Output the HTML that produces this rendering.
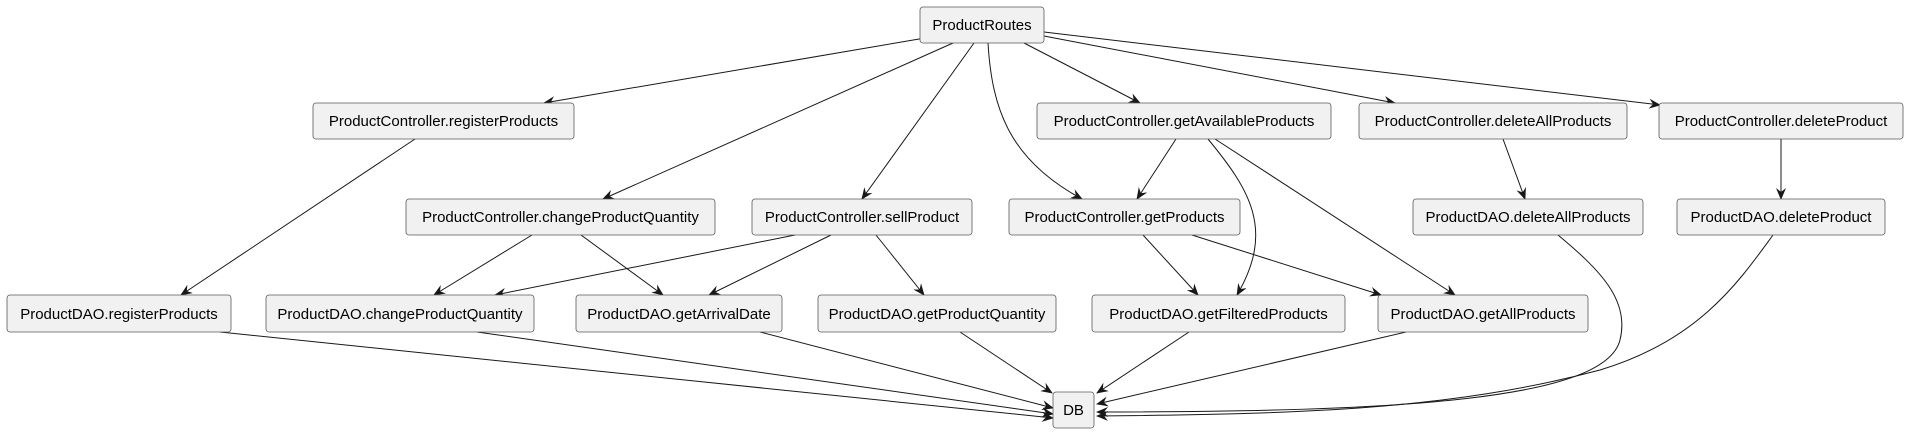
<!DOCTYPE html>
<html><head><meta charset="utf-8"><style>
html,body{margin:0;padding:0;background:#fff;}
svg{display:block;}
text{font-family:"Liberation Sans",sans-serif;font-size:15px;fill:#000;}
</style></head><body>
<svg width="1907" height="433" viewBox="0 0 1907 433" xmlns="http://www.w3.org/2000/svg">
<defs>
<marker id="a" viewBox="0 0 12 10" refX="11" refY="5" markerWidth="12" markerHeight="10" markerUnits="userSpaceOnUse" orient="auto">
<path d="M0,0 L12,5 L0,10 L4,5 Z" fill="#181818"/>
</marker>
</defs>
<g fill="none" stroke="#181818" stroke-width="1" marker-end="url(#a)">
<path d="M925,38 L544,103"/>
<path d="M953,43 L603,199"/>
<path d="M974,43 L862,199"/>
<path d="M988,43 C992,110 1010,160 1082,199"/>
<path d="M1024,43 L1140,103"/>
<path d="M1044,36 L1395,103"/>
<path d="M1044,32 L1660,105"/>
<path d="M415,139 L181,295"/>
<path d="M1176,139 L1137,199"/>
<path d="M1208,139 C1250,190 1275,230 1237,295"/>
<path d="M1215,139 L1455,295"/>
<path d="M1503,139 L1525,199"/>
<path d="M1781,139 L1781,199"/>
<path d="M532,235 L434,295"/>
<path d="M581,235 L663,295"/>
<path d="M795,235 L495,295"/>
<path d="M831,235 L709,295"/>
<path d="M876,235 L924,295"/>
<path d="M1143,235 L1198,295"/>
<path d="M1192,235 L1381,295"/>
<path d="M220,332 L1053,418"/>
<path d="M477,332 L1053,414"/>
<path d="M760,332 L1053,408"/>
<path d="M960,332 L1052,393"/>
<path d="M1189,332 L1097,393"/>
<path d="M1406,332 L1097,404"/>
<path d="M1558,235 C1600,270 1630,300 1620,340 C1605,400 1400,412 1097,412"/>
<path d="M1773,235 C1740,280 1700,340 1600,370 C1450,410 1300,414 1097,416"/>
</g>
<g fill="#f1f1f1" stroke="#5a5a5a" stroke-width="0.8">
<rect x="920" y="7" width="124" height="36" rx="3"/>
<rect x="313" y="103" width="261" height="36" rx="3"/>
<rect x="1037" y="103" width="294" height="36" rx="3"/>
<rect x="1359" y="103" width="268" height="36" rx="3"/>
<rect x="1659" y="103" width="244" height="36" rx="3"/>
<rect x="406" y="199" width="309" height="36" rx="3"/>
<rect x="752" y="199" width="220" height="36" rx="3"/>
<rect x="1009" y="199" width="231" height="36" rx="3"/>
<rect x="1413" y="199" width="230" height="36" rx="3"/>
<rect x="1677" y="199" width="208" height="36" rx="3"/>
<rect x="7" y="295" width="224" height="37" rx="3"/>
<rect x="266" y="295" width="268" height="37" rx="3"/>
<rect x="576" y="295" width="206" height="37" rx="3"/>
<rect x="818" y="295" width="238" height="37" rx="3"/>
<rect x="1092" y="295" width="253" height="37" rx="3"/>
<rect x="1378" y="295" width="210" height="37" rx="3"/>
<rect x="1053" y="392" width="41" height="36" rx="3"/>
</g>
<g text-anchor="middle">
<text x="982" y="30">ProductRoutes</text>
<text x="443.5" y="126">ProductController.registerProducts</text>
<text x="1184" y="126">ProductController.getAvailableProducts</text>
<text x="1493" y="126">ProductController.deleteAllProducts</text>
<text x="1781" y="126">ProductController.deleteProduct</text>
<text x="560.5" y="222">ProductController.changeProductQuantity</text>
<text x="862" y="222">ProductController.sellProduct</text>
<text x="1124.5" y="222">ProductController.getProducts</text>
<text x="1528" y="222">ProductDAO.deleteAllProducts</text>
<text x="1781" y="222">ProductDAO.deleteProduct</text>
<text x="119" y="319">ProductDAO.registerProducts</text>
<text x="400" y="319">ProductDAO.changeProductQuantity</text>
<text x="679" y="319">ProductDAO.getArrivalDate</text>
<text x="937" y="319">ProductDAO.getProductQuantity</text>
<text x="1218.5" y="319">ProductDAO.getFilteredProducts</text>
<text x="1483" y="319">ProductDAO.getAllProducts</text>
<text x="1073.5" y="415">DB</text>
</g>
</svg>
</body></html>
